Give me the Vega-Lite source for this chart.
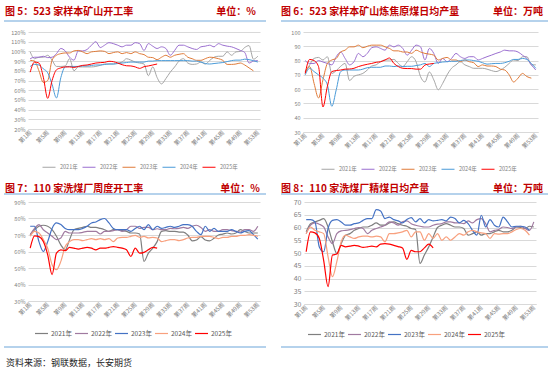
{
"$schema": "https://vega.github.io/schema/vega-lite/v6.json",
"background": "white",
"padding": {"left": 3, "top": 7, "right": 2, "bottom": 2},
"config": {
  "view": {"stroke": null},
  "font": "Noto Sans CJK SC",
  "axisX": {"grid": false, "ticks": false, "domainColor": "#D9D9D9", "labelAngle": -45, "labelAlign": "right", "labelBaseline": "middle", "labelFontSize": 6, "labelColor": "#7F7F7F", "labelPadding": 2, "labelFlush": false, "labelOverlap": false},
  "axisY": {"domain": false, "ticks": false, "gridColor": "#D9D9D9", "labelFontSize": 5.5, "labelColor": "#7F7F7F", "labelPadding": 3},
  "legend": {"labelColor": "#7F7F7F", "padding": 0}
},
"datasets": {
"p5": [
{"w":1,"2021":99.5,"2022":92.5,"2023":90.8,"2024":84.5,"2025":78.6},
{"w":2,"2021":92.5,"2022":94,"2023":90,"2024":86.6,"2025":89},
{"w":3,"2021":94,"2022":94,"2023":80,"2024":86,"2025":88},
{"w":4,"2021":94,"2022":95,"2023":68,"2024":82,"2025":73.4},
{"w":5,"2021":96,"2022":93.6,"2023":70,"2024":78,"2025":51.6},
{"w":6,"2021":91,"2022":94,"2023":91,"2024":66,"2025":70},
{"w":7,"2021":84.5,"2022":97.7,"2023":96,"2024":52,"2025":81},
{"w":8,"2021":84.5,"2022":103,"2023":97.7,"2024":73,"2025":83},
{"w":9,"2021":85,"2022":100.5,"2023":98.4,"2024":84,"2025":84},
{"w":10,"2021":92.5,"2022":94,"2023":98.4,"2024":84.5,"2025":84},
{"w":11,"2021":80,"2022":91,"2023":100.5,"2024":84.5,"2025":83.5},
{"w":12,"2021":84,"2022":100.5,"2023":101,"2024":84.5,"2025":84.5},
{"w":13,"2021":84,"2022":100.5,"2023":99.5,"2024":85,"2025":85.6},
{"w":14,"2021":84,"2022":102,"2023":97.7,"2024":85,"2025":86},
{"w":15,"2021":84,"2022":106.4,"2023":99.5,"2024":85.5,"2025":87},
{"w":16,"2021":84.5,"2022":110,"2023":100,"2024":86,"2025":88},
{"w":17,"2021":85.6,"2022":104,"2023":100.5,"2024":86,"2025":88.4},
{"w":18,"2021":87,"2022":106.4,"2023":100,"2024":86.5,"2025":88.7},
{"w":19,"2021":87,"2022":109,"2023":97.7,"2024":87,"2025":89.8},
{"w":20,"2021":87,"2022":108,"2023":98.8,"2024":87,"2025":89.4},
{"w":21,"2021":88,"2022":106.4,"2023":99.5,"2024":87.5,"2025":88},
{"w":22,"2021":89,"2022":104.7,"2023":97.7,"2024":88,"2025":86.3},
{"w":23,"2021":92.5,"2022":106.4,"2023":98.8,"2024":88.5,"2025":85.2},
{"w":24,"2021":91,"2022":106.4,"2023":97.7,"2024":89,"2025":85},
{"w":25,"2021":89,"2022":109,"2023":99.5,"2024":89,"2025":84},
{"w":26,"2021":88,"2022":108,"2023":97.7,"2024":89,"2025":82.5},
{"w":27,"2021":87,"2022":101,"2023":96.7,"2024":89,"2025":84.2},
{"w":28,"2021":75,"2022":108,"2023":94,"2024":90,"2025":85},
{"w":29,"2021":84,"2022":105.4,"2023":93.6,"2024":90,"2025":86},
{"w":30,"2021":73,"2022":103,"2023":91.5,"2024":90.5,"2025":87},
{"w":31,"2021":66.5,"2022":104.7,"2023":94,"2024":90.5},
{"w":32,"2021":72,"2022":103,"2023":96,"2024":90.5},
{"w":33,"2021":78.6,"2022":96,"2023":94,"2024":90.5},
{"w":34,"2021":84,"2022":101,"2023":96,"2024":90.5},
{"w":35,"2021":90,"2022":106.4,"2023":97,"2024":90.5},
{"w":36,"2021":92.5,"2022":106.4,"2023":97.7,"2024":90.5},
{"w":37,"2021":88,"2022":104.7,"2023":94,"2024":90.5},
{"w":38,"2021":86.6,"2022":103,"2023":92.5,"2024":90},
{"w":39,"2021":87,"2022":102,"2023":90.8,"2024":90},
{"w":40,"2021":89,"2022":104.7,"2023":90.8,"2024":89},
{"w":41,"2021":87,"2022":105.4,"2023":92.5,"2024":87.5},
{"w":42,"2021":90.6,"2022":106.4,"2023":94,"2024":87},
{"w":43,"2021":94,"2022":104.7,"2023":93.6,"2024":87.5},
{"w":44,"2021":95,"2022":108,"2023":92.5,"2024":88},
{"w":45,"2021":95,"2022":106.4,"2023":90.8,"2024":88.5},
{"w":46,"2021":99.5,"2022":105.4,"2023":86.6,"2024":89.5},
{"w":47,"2021":96,"2022":104.7,"2023":86.6,"2024":90.5},
{"w":48,"2021":99.5,"2022":103,"2023":87,"2024":91},
{"w":49,"2021":100,"2022":101,"2023":88,"2024":91},
{"w":50,"2021":104,"2022":99,"2023":86,"2024":92},
{"w":51,"2021":106,"2022":88,"2023":83,"2024":91.5},
{"w":52,"2021":92,"2022":90,"2023":80,"2024":90.5},
{"w":53,"2021":95,"2022":90.5,"2024":89}
],
"p6": [
{"w":1,"2021":71,"2022":80,"2023":72.3,"2024":70,"2025":71},
{"w":2,"2021":77,"2022":78,"2023":75.8,"2024":74.6,"2025":80.8},
{"w":3,"2021":81.5,"2022":78,"2023":64,"2024":72.3,"2025":80},
{"w":4,"2021":82.2,"2022":80,"2023":53.8,"2024":70,"2025":75.8},
{"w":5,"2021":80.4,"2022":79,"2023":66.5,"2024":67.7,"2025":47.5},
{"w":6,"2021":82.7,"2022":78,"2023":78,"2024":63,"2025":62},
{"w":7,"2021":71,"2022":77,"2023":80.4,"2024":48,"2025":72.3},
{"w":8,"2021":73,"2022":82.7,"2023":81.5,"2024":59.6,"2025":73},
{"w":9,"2021":76,"2022":86,"2023":86,"2024":72.3,"2025":73.4},
{"w":10,"2021":78,"2022":81.5,"2023":87.3,"2024":73.4,"2025":74},
{"w":11,"2021":66,"2022":77,"2023":89.6,"2024":73.4,"2025":74.1},
{"w":12,"2021":69,"2022":79.2,"2023":89.6,"2024":73.4,"2025":74.6},
{"w":13,"2021":70,"2022":85,"2023":90.8,"2024":73.4,"2025":75.8},
{"w":14,"2021":71,"2022":82.7,"2023":89,"2024":74,"2025":76.7},
{"w":15,"2021":73.4,"2022":85,"2023":90,"2024":75,"2025":77.4},
{"w":16,"2021":76.2,"2022":89,"2023":90.8,"2024":75.3,"2025":78},
{"w":17,"2021":77,"2022":89.6,"2023":90.8,"2024":75.3,"2025":78.8},
{"w":18,"2021":79.2,"2022":88.5,"2023":90.8,"2024":75.3,"2025":79.2},
{"w":19,"2021":80.4,"2022":87.3,"2023":89.6,"2024":76.2,"2025":80.4},
{"w":20,"2021":80.4,"2022":90.8,"2023":88.5,"2024":76.2,"2025":81.8},
{"w":21,"2021":80.8,"2022":89.6,"2023":86.8,"2024":75.8,"2025":78},
{"w":22,"2021":78,"2022":90.8,"2023":86.8,"2024":76.2,"2025":75.8},
{"w":23,"2021":75.8,"2022":88.5,"2023":86,"2024":75.8,"2025":74.6},
{"w":24,"2021":79.2,"2022":83.8,"2023":86,"2024":76,"2025":74.4},
{"w":25,"2021":82.7,"2022":87.3,"2023":85,"2024":76,"2025":74.4},
{"w":26,"2021":79.2,"2022":90.8,"2023":87.3,"2024":76.5,"2025":74},
{"w":27,"2021":68.8,"2022":89.6,"2023":86,"2024":77,"2025":74},
{"w":28,"2021":65,"2022":80.4,"2023":85,"2024":78,"2025":76.9},
{"w":29,"2021":72,"2022":88.5,"2023":84.5,"2024":75.8,"2025":77.6},
{"w":30,"2021":66.5,"2022":85,"2023":83.8,"2024":78,"2025":78},
{"w":31,"2021":59.6,"2022":78,"2023":80.4,"2024":78.5},
{"w":32,"2021":64,"2022":81.5,"2023":81.5,"2024":79},
{"w":33,"2021":70,"2022":79.2,"2023":82.2,"2024":79.2},
{"w":34,"2021":74.6,"2022":81.5,"2023":80.4,"2024":79.5},
{"w":35,"2021":77,"2022":85,"2023":80.4,"2024":79.5},
{"w":36,"2021":79.2,"2022":82.7,"2023":79.2,"2024":80},
{"w":37,"2021":77,"2022":81.5,"2023":80.4,"2024":80.4},
{"w":38,"2021":75.8,"2022":82.7,"2023":79.2,"2024":80.4},
{"w":39,"2021":74.6,"2022":82.7,"2023":78.5,"2024":80},
{"w":40,"2021":74.6,"2022":80.4,"2023":75.8,"2024":79.5},
{"w":41,"2021":74.6,"2022":81.5,"2023":77,"2024":78.5},
{"w":42,"2021":74,"2022":82.7,"2023":76.2,"2024":77.5},
{"w":43,"2021":73,"2022":83.8,"2023":76.2,"2024":77.8},
{"w":44,"2021":72.3,"2022":85,"2023":75.8,"2024":78},
{"w":45,"2021":73.4,"2022":86,"2023":74,"2024":78},
{"w":46,"2021":75.3,"2022":87.3,"2023":73.4,"2024":78.5},
{"w":47,"2021":78,"2022":86.8,"2023":70,"2024":79.5},
{"w":48,"2021":80.4,"2022":86.8,"2023":65,"2024":80.8},
{"w":49,"2021":80,"2022":86,"2023":67.7,"2024":80.8},
{"w":50,"2021":82.7,"2022":83.8,"2023":71,"2024":81.5},
{"w":51,"2021":82.7,"2022":81.5,"2023":68.8,"2024":80.8},
{"w":52,"2021":77,"2022":77,"2023":67.7,"2024":78},
{"w":53,"2021":77,"2022":73.4,"2024":74.6}
],
"p7": [
{"w":1,"2021":70.2,"2022":70.2,"2023":75.3,"2024":69.2,"2025":62},
{"w":2,"2021":73.2,"2022":74,"2023":75.3,"2024":72.2,"2025":69.5},
{"w":3,"2021":75.3,"2022":76.3,"2023":66,"2024":71.2,"2025":69},
{"w":4,"2021":75.9,"2022":73.2,"2023":60,"2024":67.2,"2025":66},
{"w":5,"2021":75.3,"2022":71.2,"2023":66,"2024":62,"2025":58},
{"w":6,"2021":73.2,"2022":69.2,"2023":74,"2024":52,"2025":46},
{"w":7,"2021":69.2,"2022":67.2,"2023":77.3,"2024":49,"2025":59},
{"w":8,"2021":64,"2022":68.2,"2023":76.3,"2024":54,"2025":61},
{"w":9,"2021":61,"2022":72.2,"2023":74,"2024":63,"2025":60.5},
{"w":10,"2021":67.2,"2022":71.2,"2023":73.2,"2024":66,"2025":62.5},
{"w":11,"2021":73.2,"2022":71.2,"2023":73.2,"2024":67.2,"2025":62},
{"w":12,"2021":74,"2022":71.2,"2023":73.2,"2024":67.2,"2025":61.5},
{"w":13,"2021":74.6,"2022":71.6,"2023":74,"2024":66.6,"2025":62},
{"w":14,"2021":75.3,"2022":72.2,"2023":75.3,"2024":67.2,"2025":62.5},
{"w":15,"2021":74.6,"2022":72.2,"2023":77.3,"2024":67.8,"2025":62},
{"w":16,"2021":74.6,"2022":72.2,"2023":77.9,"2024":67.2,"2025":61},
{"w":17,"2021":74,"2022":70.6,"2023":79.3,"2024":67.8,"2025":62},
{"w":18,"2021":73.2,"2022":72.2,"2023":80,"2024":67.2,"2025":62},
{"w":19,"2021":72.2,"2022":72.2,"2023":77.3,"2024":67.8,"2025":62.5},
{"w":20,"2021":73.2,"2022":72.6,"2023":74,"2024":66,"2025":63},
{"w":21,"2021":73.2,"2022":73.2,"2023":73.2,"2024":68.2,"2025":62.5},
{"w":22,"2021":72.6,"2022":72.2,"2023":73.2,"2024":68.6,"2025":62},
{"w":23,"2021":72.2,"2022":73.2,"2023":73.2,"2024":68.6,"2025":61},
{"w":24,"2021":71.2,"2022":75.3,"2023":72.2,"2024":69.2,"2025":57},
{"w":25,"2021":71.2,"2022":75.3,"2023":74,"2024":69.8,"2025":62},
{"w":26,"2021":70.6,"2022":74,"2023":75.3,"2024":68.6,"2025":59},
{"w":27,"2021":54,"2022":74.6,"2023":73.2,"2024":69.2,"2025":59.5},
{"w":28,"2021":59,"2022":74.6,"2023":76.3,"2024":68.2,"2025":61},
{"w":29,"2021":62,"2022":73.2,"2023":73.2,"2024":68.6,"2025":62.5},
{"w":30,"2021":66,"2022":73.8,"2023":75.3,"2024":68.2,"2025":62},
{"w":31,"2021":72.2,"2022":73.2,"2023":74,"2024":66},
{"w":32,"2021":72.6,"2022":73.2,"2023":74.6,"2024":66.6},
{"w":33,"2021":72.2,"2022":74,"2023":75.3,"2024":67.2},
{"w":34,"2021":72.2,"2022":73.8,"2023":74.6,"2024":67.2},
{"w":35,"2021":71.8,"2022":74,"2023":75.3,"2024":66.6},
{"w":36,"2021":71.8,"2022":74.6,"2023":76.3,"2024":67.2},
{"w":37,"2021":70,"2022":74,"2023":76.3,"2024":68.2},
{"w":38,"2021":66.5,"2022":75.3,"2023":75.3,"2024":68.6},
{"w":39,"2021":67,"2022":75.9,"2023":72.2,"2024":68.6},
{"w":40,"2021":69,"2022":74.6,"2023":70.2,"2024":69.2},
{"w":41,"2021":67,"2022":72.2,"2023":75.3,"2024":69.2},
{"w":42,"2021":66.5,"2022":73.2,"2023":72.2,"2024":69.2},
{"w":43,"2021":68,"2022":72.2,"2023":74,"2024":68.6},
{"w":44,"2021":70,"2022":72.2,"2023":72.2,"2024":67.8},
{"w":45,"2021":70.5,"2022":73.2,"2023":72.2,"2024":68.6},
{"w":46,"2021":71.2,"2022":73.2,"2023":72.2,"2024":68.6},
{"w":47,"2021":70.6,"2022":72.6,"2023":73.2,"2024":69.2},
{"w":48,"2021":71.2,"2022":72.2,"2023":72.2,"2024":69.2},
{"w":49,"2021":73.2,"2022":71.8,"2023":71.2,"2024":69.8},
{"w":50,"2021":72.2,"2022":73.2,"2023":72.2,"2024":69.8},
{"w":51,"2021":71.2,"2022":73.2,"2023":72.6,"2024":70.2},
{"w":52,"2021":71.2,"2022":72.2,"2023":70.2,"2024":69.8},
{"w":53,"2021":71.2,"2022":75.3,"2023":67.5,"2024":69.2}
],
"p8": [
{"w":1,"2021":58.3,"2022":57.6,"2023":63.1,"2024":57.6,"2025":50.5},
{"w":2,"2021":61.5,"2022":60.9,"2023":63.1,"2024":60.2,"2025":58.3},
{"w":3,"2021":62.2,"2022":61.8,"2023":62.2,"2024":58.9,"2025":57.9},
{"w":4,"2021":62.8,"2022":61.3,"2023":52.4,"2024":58.3,"2025":55.7},
{"w":5,"2021":63.5,"2022":60.2,"2023":50.5,"2024":57.6,"2025":47},
{"w":6,"2021":60.2,"2022":56.3,"2023":59.6,"2024":48.5,"2025":36.8},
{"w":7,"2021":54.4,"2022":53.7,"2023":62.8,"2024":40.7,"2025":49.2},
{"w":8,"2021":49.8,"2022":57.6,"2023":63.1,"2024":46.6,"2025":49.6},
{"w":9,"2021":53.7,"2022":58.7,"2023":62.2,"2024":54.4,"2025":53},
{"w":10,"2021":57,"2022":58.9,"2023":60.9,"2024":57,"2025":52.4},
{"w":11,"2021":57.6,"2022":59.2,"2023":60.9,"2024":56.3,"2025":52.7},
{"w":12,"2021":58.9,"2022":59.6,"2023":61.5,"2024":55.7,"2025":53},
{"w":13,"2021":59.6,"2022":60,"2023":61.8,"2024":56.3,"2025":52.7},
{"w":14,"2021":60.2,"2022":59.6,"2023":62.8,"2024":56.6,"2025":52.2},
{"w":15,"2021":60.2,"2022":57.6,"2023":63.5,"2024":56.6,"2025":52.4},
{"w":16,"2021":60.9,"2022":58.9,"2023":63.5,"2024":56.3,"2025":52.7},
{"w":17,"2021":61.8,"2022":59.6,"2023":67,"2024":56.6,"2025":52.4},
{"w":18,"2021":60.9,"2022":60.2,"2023":66.5,"2024":56.3,"2025":53.5},
{"w":19,"2021":60.9,"2022":60.9,"2023":63.5,"2024":54.4,"2025":53.7},
{"w":20,"2021":61.8,"2022":62.2,"2023":64.1,"2024":57.6,"2025":53.5},
{"w":21,"2021":62.2,"2022":61.8,"2023":63.1,"2024":57.6,"2025":53},
{"w":22,"2021":61.5,"2022":60.9,"2023":62.6,"2024":57.9,"2025":52.5},
{"w":23,"2021":60.9,"2022":62.2,"2023":61.8,"2024":58.3,"2025":52},
{"w":24,"2021":60.5,"2022":62.6,"2023":63.1,"2024":58.9,"2025":47.5},
{"w":25,"2021":59.6,"2022":61.5,"2023":63.9,"2024":56.3,"2025":51},
{"w":26,"2021":59.2,"2022":60.9,"2023":62.2,"2024":58.3,"2025":50.5},
{"w":27,"2021":45.9,"2022":60.5,"2023":63.5,"2024":58.3,"2025":50.5},
{"w":28,"2021":49.2,"2022":60.2,"2023":61.8,"2024":55,"2025":52},
{"w":29,"2021":52.4,"2022":60.2,"2023":63.1,"2024":57.6,"2025":53.5},
{"w":30,"2021":56.3,"2022":60.9,"2023":62.6,"2024":55.7,"2025":52},
{"w":31,"2021":60,"2022":61.3,"2023":62.8,"2024":57.6},
{"w":32,"2021":60.9,"2022":61.5,"2023":63.1,"2024":55},
{"w":33,"2021":61.5,"2022":62.2,"2023":62.6,"2024":56.3},
{"w":34,"2021":60.9,"2022":62.2,"2023":64.1,"2024":55},
{"w":35,"2021":60.2,"2022":61.8,"2023":63.5,"2024":56.3},
{"w":36,"2021":60.2,"2022":61.8,"2023":61.8,"2024":57.6},
{"w":37,"2021":59.6,"2022":61.5,"2023":62.8,"2024":57},
{"w":38,"2021":57,"2022":62.6,"2023":61.5,"2024":58.3},
{"w":39,"2021":57.6,"2022":61.8,"2023":58.9,"2024":58.9},
{"w":40,"2021":58.3,"2022":63.1,"2023":57,"2024":58.3},
{"w":41,"2021":57,"2022":63.5,"2023":64.8,"2024":57.9},
{"w":42,"2021":57.6,"2022":61.5,"2023":60.2,"2024":57.6},
{"w":43,"2021":57.6,"2022":58.3,"2023":63.1,"2024":55.7},
{"w":44,"2021":58.3,"2022":58.9,"2023":60.9,"2024":57.6},
{"w":45,"2021":58.9,"2022":59.2,"2023":60.2,"2024":57.4},
{"w":46,"2021":58.3,"2022":60.2,"2023":64.1,"2024":57.6},
{"w":47,"2021":58.3,"2022":60,"2023":62.2,"2024":57.6},
{"w":48,"2021":58.9,"2022":59.6,"2023":60.2,"2024":58.3},
{"w":49,"2021":60.2,"2022":60.2,"2023":60.5,"2024":59.2},
{"w":50,"2021":60,"2022":60.5,"2023":60.5,"2024":59.6},
{"w":51,"2021":59.6,"2022":59.6,"2023":60.2,"2024":58.9},
{"w":52,"2021":60.5,"2022":58.9,"2023":58.9,"2024":57},
{"w":53,"2021":60.2,"2022":62.2}
]
},
"spacing": 11,
"resolve": {"scale": {"color": "independent", "strokeWidth": "independent"}, "legend": {"color": "independent", "strokeWidth": "independent"}},
"vconcat": [
{
"spacing": 13,
"resolve": {"scale": {"color": "independent", "strokeWidth": "independent"}, "legend": {"color": "independent", "strokeWidth": "independent"}},
"hconcat": [
{
"width": 232, "height": 97,
"layer": [
{"data": {"name": "p5"},
 "transform": [{"fold": ["2021","2022","2023","2024","2025"], "as": ["year","v"]}, {"filter": "isValid(datum.v)"}],
 "mark": {"type": "line", "interpolate": "monotone"},
 "encoding": {
  "x": {"field": "w", "type": "quantitative", "title": null, "scale": {"domain": [0.5, 53.5], "nice": false, "zero": false}, "axis": {"values": [1,5,9,13,17,21,25,29,33,37,41,45,49,53], "labelExpr": "'第' + datum.value + '周'"}},
  "y": {"field": "v", "type": "quantitative", "title": null, "scale": {"domain": [20, 120], "nice": false, "zero": false}, "axis": {"values": [20,30,40,50,60,70,80,90,100,110,120], "labelExpr": "datum.value + '%'"}},
  "color": {"field": "year", "type": "nominal", "scale": {"domain": ["2021","2022","2023","2024","2025"], "range": ["#A5A5A5","#9B6FD0","#E07B39","#4A9BD8","#FF0000"]}, "legend": {"title": null, "orient": "none", "legendX": 14, "legendY": 128, "direction": "horizontal", "symbolType": "stroke", "symbolSize": 169, "labelFontSize": 5.5, "labelOffset": 4, "columnPadding": 2, "labelExpr": "datum.label + '年'"}},
  "strokeWidth": {"field": "year", "type": "nominal", "scale": {"domain": ["2021","2022","2023","2024","2025"], "range": [1,1,1,1,2.8]}, "legend": {"title": null, "orient": "none", "legendX": 14, "legendY": 128, "direction": "horizontal", "symbolType": "stroke", "symbolSize": 169, "labelFontSize": 5.5, "labelOffset": 4, "columnPadding": 2, "labelExpr": "datum.label + '年'"}}
 }},
{"data": {"values": [{}]}, "mark": {"type": "text", "align": "left", "baseline": "middle", "fontSize": 10, "fontWeight": "bold", "color": "#C00000"}, "encoding": {"x": {"value": -23}, "y": {"value": -20}, "text": {"value": "图 5：523 家样本矿山开工率"}}},
{"data": {"values": [{}]}, "mark": {"type": "text", "align": "right", "baseline": "middle", "fontSize": 10, "fontWeight": "bold", "color": "#C00000"}, "encoding": {"x": {"value": 228}, "y": {"value": -20}, "text": {"value": "单位：%"}}},
{"data": {"values": [{}]}, "mark": {"type": "rule", "color": "#9DC3E6", "strokeWidth": 1.5}, "encoding": {"x": {"value": -24}, "x2": {"value": 238}, "y": {"value": -11}}}
]
},
{
"width": 235, "height": 100,
"layer": [
{"data": {"name": "p6"},
 "transform": [{"fold": ["2021","2022","2023","2024","2025"], "as": ["year","v"]}, {"filter": "isValid(datum.v)"}],
 "mark": {"type": "line", "interpolate": "monotone"},
 "encoding": {
  "x": {"field": "w", "type": "quantitative", "title": null, "scale": {"domain": [0.5, 53.5], "nice": false, "zero": false}, "axis": {"values": [1,5,9,13,17,21,25,29,33,37,41,45,49,53], "labelExpr": "'第' + datum.value + '周'"}},
  "y": {"field": "v", "type": "quantitative", "title": null, "scale": {"domain": [30, 100], "nice": false, "zero": false}, "axis": {"values": [30,40,50,60,70,80,90,100]}},
  "color": {"field": "year", "type": "nominal", "scale": {"domain": ["2021","2022","2023","2024","2025"], "range": ["#A5A5A5","#9B6FD0","#E07B39","#4A9BD8","#FF0000"]}, "legend": {"title": null, "orient": "none", "legendX": 18, "legendY": 130, "direction": "horizontal", "symbolType": "stroke", "symbolSize": 169, "labelFontSize": 5.5, "labelOffset": 4, "columnPadding": 2, "labelExpr": "datum.label + '年'"}},
  "strokeWidth": {"field": "year", "type": "nominal", "scale": {"domain": ["2021","2022","2023","2024","2025"], "range": [1,1,1,1,2.8]}, "legend": {"title": null, "orient": "none", "legendX": 18, "legendY": 130, "direction": "horizontal", "symbolType": "stroke", "symbolSize": 169, "labelFontSize": 5.5, "labelOffset": 4, "columnPadding": 2, "labelExpr": "datum.label + '年'"}}
 }},
{"data": {"values": [{}]}, "mark": {"type": "text", "align": "left", "baseline": "middle", "fontSize": 10, "fontWeight": "bold", "color": "#C00000"}, "encoding": {"x": {"value": -22}, "y": {"value": -20}, "text": {"value": "图 6：523 家样本矿山炼焦原煤日均产量"}}},
{"data": {"values": [{}]}, "mark": {"type": "text", "align": "right", "baseline": "middle", "fontSize": 10, "fontWeight": "bold", "color": "#C00000"}, "encoding": {"x": {"value": 240}, "y": {"value": -20}, "text": {"value": "单位：万吨"}}},
{"data": {"values": [{}]}, "mark": {"type": "rule", "color": "#9DC3E6", "strokeWidth": 1.5}, "encoding": {"x": {"value": -22}, "x2": {"value": 245}, "y": {"value": -11}}}
]
}
]
},
{
"spacing": 13,
"resolve": {"scale": {"color": "independent", "strokeWidth": "independent"}, "legend": {"color": "independent", "strokeWidth": "independent"}},
"hconcat": [
{
"width": 232, "height": 99,
"layer": [
{"data": {"name": "p7"},
 "transform": [{"fold": ["2021","2022","2023","2024","2025"], "as": ["year","v"]}, {"filter": "isValid(datum.v)"}],
 "mark": {"type": "line", "interpolate": "monotone"},
 "encoding": {
  "x": {"field": "w", "type": "quantitative", "title": null, "scale": {"domain": [0.5, 53.5], "nice": false, "zero": false}, "axis": {"values": [1,5,9,13,17,21,25,29,33,37,41,45,49,53], "labelExpr": "'第' + datum.value + '周'"}},
  "y": {"field": "v", "type": "quantitative", "title": null, "scale": {"domain": [30, 90], "nice": false, "zero": false}, "axis": {"values": [30,40,50,60,70,80,90], "labelExpr": "datum.value + '%'"}},
  "color": {"field": "year", "type": "nominal", "scale": {"domain": ["2021","2022","2023","2024","2025"], "range": ["#7F7F7F","#A07AA0","#4472C4","#F8A07E","#FF0000"]}, "legend": {"title": null, "orient": "none", "legendX": 6, "legendY": 124, "direction": "horizontal", "symbolType": "stroke", "symbolSize": 169, "labelFontSize": 6.5, "labelColor": "#595959", "labelOffset": 2, "columnPadding": 0, "labelExpr": "datum.label + '年'"}},
  "strokeWidth": {"field": "year", "type": "nominal", "scale": {"domain": ["2021","2022","2023","2024","2025"], "range": [1.2,1.2,1.2,1.2,2.8]}, "legend": {"title": null, "orient": "none", "legendX": 6, "legendY": 124, "direction": "horizontal", "symbolType": "stroke", "symbolSize": 169, "labelFontSize": 6.5, "labelColor": "#595959", "labelOffset": 2, "columnPadding": 0, "labelExpr": "datum.label + '年'"}}
 }},
{"data": {"values": [{}]}, "mark": {"type": "text", "align": "left", "baseline": "middle", "fontSize": 10, "fontWeight": "bold", "color": "#C00000"}, "encoding": {"x": {"value": -23}, "y": {"value": -13}, "text": {"value": "图 7：110 家洗煤厂周度开工率"}}},
{"data": {"values": [{}]}, "mark": {"type": "text", "align": "right", "baseline": "middle", "fontSize": 10, "fontWeight": "bold", "color": "#C00000"}, "encoding": {"x": {"value": 232}, "y": {"value": -13}, "text": {"value": "单位：%"}}},
{"data": {"values": [{}]}, "mark": {"type": "rule", "color": "#9DC3E6", "strokeWidth": 1.5}, "encoding": {"x": {"value": -24}, "x2": {"value": 238}, "y": {"value": -8}}},
{"data": {"values": [{}]}, "mark": {"type": "rule", "color": "#9DC3E6", "strokeWidth": 1.5}, "encoding": {"x": {"value": -24}, "x2": {"value": 238}, "y": {"value": 145}}},
{"data": {"values": [{}]}, "mark": {"type": "text", "align": "left", "baseline": "middle", "fontSize": 9, "color": "#262626"}, "encoding": {"x": {"value": -22}, "y": {"value": 161}, "text": {"value": "资料来源：钢联数据，长安期货"}}}
]
},
{
"width": 232, "height": 102,
"layer": [
{"data": {"name": "p8"},
 "transform": [{"fold": ["2021","2022","2023","2024","2025"], "as": ["year","v"]}, {"filter": "isValid(datum.v)"}],
 "mark": {"type": "line", "interpolate": "monotone"},
 "encoding": {
  "x": {"field": "w", "type": "quantitative", "title": null, "scale": {"domain": [0.5, 53.5], "nice": false, "zero": false}, "axis": {"values": [1,5,9,13,17,21,25,29,33,37,41,45,49,53], "labelExpr": "'第' + datum.value + '周'"}},
  "y": {"field": "v", "type": "quantitative", "title": null, "scale": {"domain": [30, 70], "nice": false, "zero": false}, "axis": {"values": [30,35,40,45,50,55,60,65,70], "labelFontSize": 7}},
  "color": {"field": "year", "type": "nominal", "scale": {"domain": ["2021","2022","2023","2024","2025"], "range": ["#7F7F7F","#A07AA0","#4472C4","#F8A07E","#FF0000"]}, "legend": {"title": null, "orient": "none", "legendX": 3, "legendY": 125, "direction": "horizontal", "symbolType": "stroke", "symbolSize": 169, "labelFontSize": 6.5, "labelColor": "#595959", "labelOffset": 2, "columnPadding": 0, "labelExpr": "datum.label + '年'"}},
  "strokeWidth": {"field": "year", "type": "nominal", "scale": {"domain": ["2021","2022","2023","2024","2025"], "range": [1.2,1.2,1.2,1.2,2.8]}, "legend": {"title": null, "orient": "none", "legendX": 3, "legendY": 125, "direction": "horizontal", "symbolType": "stroke", "symbolSize": 169, "labelFontSize": 6.5, "labelColor": "#595959", "labelOffset": 2, "columnPadding": 0, "labelExpr": "datum.label + '年'"}}
 }},
{"data": {"values": [{}]}, "mark": {"type": "text", "align": "left", "baseline": "middle", "fontSize": 10, "fontWeight": "bold", "color": "#C00000"}, "encoding": {"x": {"value": -23}, "y": {"value": -13}, "text": {"value": "图 8：110 家洗煤厂精煤日均产量"}}},
{"data": {"values": [{}]}, "mark": {"type": "text", "align": "right", "baseline": "middle", "fontSize": 10, "fontWeight": "bold", "color": "#C00000"}, "encoding": {"x": {"value": 239}, "y": {"value": -13}, "text": {"value": "单位：万吨"}}},
{"data": {"values": [{}]}, "mark": {"type": "rule", "color": "#9DC3E6", "strokeWidth": 1.5}, "encoding": {"x": {"value": -23}, "x2": {"value": 244}, "y": {"value": -8}}},
{"data": {"values": [{}]}, "mark": {"type": "rule", "color": "#9DC3E6", "strokeWidth": 1.5}, "encoding": {"x": {"value": -23}, "x2": {"value": 244}, "y": {"value": 145}}}
]
}
]
}
]
}
